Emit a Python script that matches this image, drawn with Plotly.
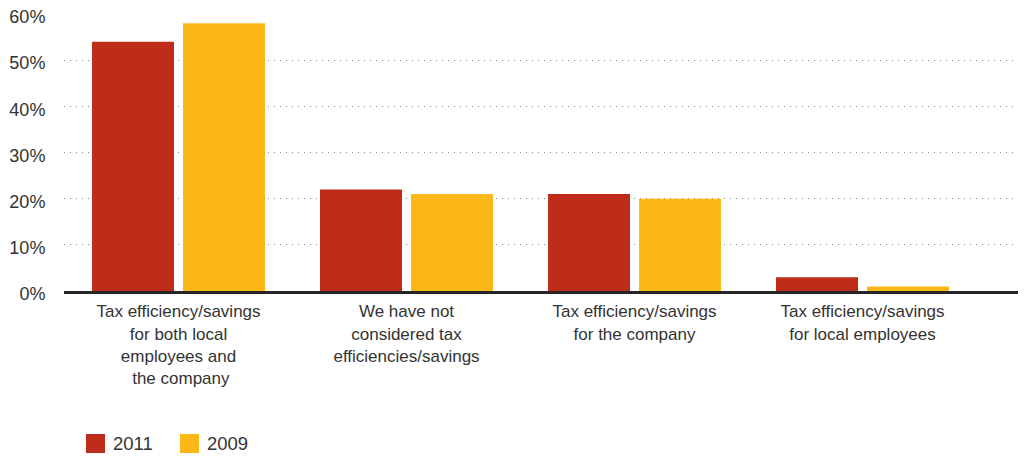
import plotly.graph_objects as go

categories = [
    "Tax efficiency/savings<br>for both local<br>employees and<br> the company",
    "We have not<br>considered tax<br>efficiencies/savings",
    "Tax efficiency/savings<br>for the company",
    "Tax efficiency/savings<br>for local employees",
]
values_2011 = [54, 22, 21, 3]
values_2009 = [58, 21, 20, 1]
series_names = ["2011", "2009"]
series_colors = ["#BF2D1A", "#FBB817"]
y_ticks = [0, 10, 20, 30, 40, 50, 60]

FONT = "Liberation Sans, Arial, Helvetica, sans-serif"
TEXT = "#333333"

fig = go.Figure()
for name, vals, color in zip(series_names, [values_2011, values_2009], series_colors):
    fig.add_trace(go.Bar(
        x=list(range(len(categories))), y=vals, name=name,
        marker=dict(color=color, line=dict(width=0)),
        showlegend=False,
    ))

# Plot area spans x 64..1018 px, y 14..291 px
L, R, T, B = 64, 6, 14, 165
W, H = 1024 - L - R, 456 - T - B

def px_x(x):
    return (x - L) / W

def px_y(y):
    return (456 - B - y) / H

# Legend: coloured squares with labels
shapes = []
annotations = []
legend_x = [86, 180]
for i, (name, color) in enumerate(zip(series_names, series_colors)):
    x0 = legend_x[i]
    shapes.append(dict(type="rect", xref="paper", yref="paper",
                       x0=px_x(x0), x1=px_x(x0 + 19), y0=px_y(453), y1=px_y(434),
                       fillcolor=color, line=dict(width=0)))
    annotations.append(dict(xref="paper", yref="paper", x=px_x(x0 + 25), y=px_y(443.5),
                            text=name, showarrow=False, xanchor="left", yanchor="middle",
                            font=dict(family=FONT, size=18.5, color=TEXT)))

fig.update_layout(
    width=1024, height=456,
    margin=dict(l=L, r=R, t=T, b=B),
    paper_bgcolor="white", plot_bgcolor="white",
    barmode="group", bargap=0.2018, bargroupgap=0.099,
    font=dict(family=FONT, color=TEXT),
    shapes=shapes, annotations=annotations,
    xaxis=dict(
        range=[-0.5022, 3.6819], tickmode="array",
        tickvals=list(range(len(categories))), ticktext=categories,
        showgrid=False, zeroline=False,
        showline=True, linecolor="#262424", linewidth=3,
        ticks="outside", ticklen=3, tickcolor="rgba(0,0,0,0)",
        tickfont=dict(family=FONT, size=17, color=TEXT),
        fixedrange=True,
    ),
    yaxis=dict(
        range=[0, 60], tickmode="array", tickvals=y_ticks,
        ticktext=[f"{v}%" for v in y_ticks],
        showgrid=True, gridcolor="#858585", griddash="1px,5px", gridwidth=1.2,
        zeroline=False, showline=False,
        ticks="outside", ticklen=14, tickcolor="rgba(0,0,0,0)",
        ticklabelshift=3,
        tickfont=dict(family=FONT, size=18, color=TEXT),
        fixedrange=True,
    ),
)

fig.write_html("out.html", config={"displayModeBar": False})
